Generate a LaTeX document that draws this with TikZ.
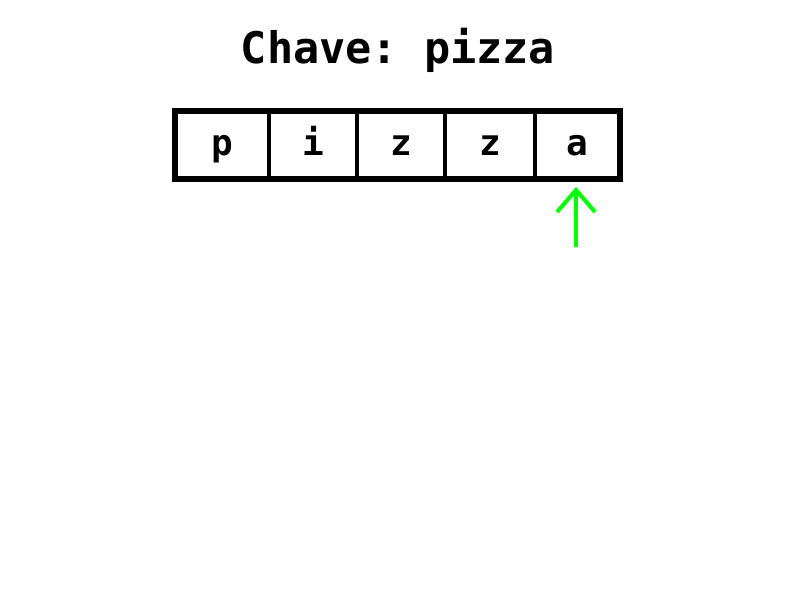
\documentclass[tikz,border=0pt]{standalone}
\usepackage{fontspec}
\setmonofont{DejaVu Sans Mono}
\tikzset{
  cell/.style={draw=black, line width=4pt, rectangle, minimum height=68pt, inner sep=0pt, font=\ttfamily\bfseries\fontsize{36}{40}\selectfont, text height=20pt, text depth=0pt},
  outer/.style={draw=black, line width=6pt},
  pointer/.style={draw={rgb,255:red,0;green,255;blue,0}, line width=4pt},
  pointerhead/.style={pointer, line join=miter},
  titletext/.style={font=\ttfamily\bfseries\fontsize{43.5}{48}\selectfont, anchor=base}
}
\begin{document}
\begin{tikzpicture}[x=1pt,y=-1pt]
\useasboundingbox[fill=white] (0,0) rectangle (800,600);
\node[titletext] (title) at (398,63) {Chave: pizza};
\node[cell, minimum width=94pt] (c1) at (222,145) {p};
\node[cell, minimum width=88pt] (c2) at (313,145) {i};
\node[cell, minimum width=88pt] (c3) at (401,145) {z};
\node[cell, minimum width=90pt] (c4) at (490,145) {z};
\node[cell, minimum width=85pt] (c5) at (577.5,145) {a};
\draw[outer] (175,111) rectangle (620,179);
\coordinate (ptr) at (576,247);
\coordinate (tipref) at ([yshift=-9pt]c5.south);
\coordinate (tip) at (ptr |- tipref);
\draw[pointer] (ptr) -- ([yshift=-1pt]tip);
\draw[pointerhead] ([xshift=-19pt,yshift=-22pt]tip) -- (tip) -- ([xshift=19pt,yshift=-22pt]tip);
\end{tikzpicture}
\end{document}
